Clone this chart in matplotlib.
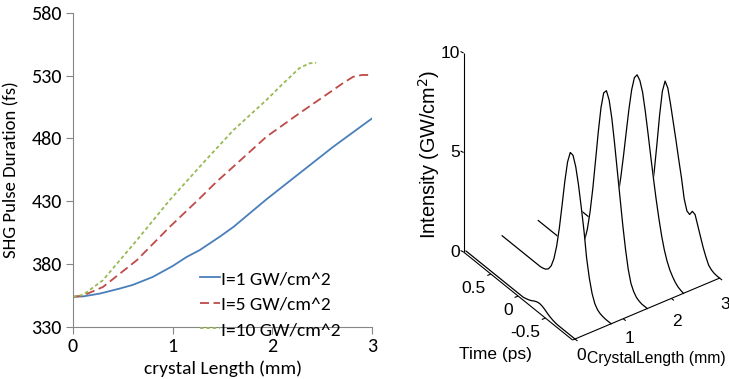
import numpy as np
import matplotlib
matplotlib.use('Agg')
import matplotlib.pyplot as plt
from matplotlib import font_manager

# ---- left panel: SHG pulse duration vs crystal length ----
len_i1 = [0, 0.1, 0.27, 0.47, 0.6, 0.8, 1.0, 1.14, 1.27, 1.47, 1.61, 1.94, 2.27, 2.61, 3.0]
dur_i1 = [354, 354.3, 356.6, 360.6, 363.5, 369.8, 378.5, 385.7, 391.1, 401.7, 409.6, 431.5, 452.1, 473.3, 495.9]
len_i5 = [0, 0.1, 0.3, 0.64, 0.97, 1.27, 1.44, 1.61, 1.94, 2.27, 2.61, 2.7, 2.81, 2.9, 3.0]
dur_i5 = [354, 355, 361.8, 383.1, 409.6, 432.2, 445.5, 457.6, 481.3, 499.9, 518.5, 523.5, 529, 530.5, 530.4]
len_i10 = [0, 0.1, 0.3, 0.64, 0.97, 1.3, 1.61, 1.94, 2.11, 2.27, 2.37, 2.44]
dur_i10 = [354, 355.5, 367.2, 399, 430.9, 460, 486.6, 510.5, 523.8, 535.8, 539.7, 540.2]
series_labels = ['I=1 GW/cm^2', 'I=5 GW/cm^2', 'I=10 GW/cm^2']

# ---- right panel: SHG intensity waterfall ----
time_ps = [1.0, 0.95, 0.9, 0.85, 0.8, 0.75, 0.7, 0.65, 0.6, 0.55, 0.5,
           0.45, 0.4, 0.35, 0.3, 0.25, 0.2, 0.15, 0.1, 0.05, 0.0,
           -0.05, -0.1, -0.15, -0.2, -0.25, -0.3, -0.35, -0.4, -0.45, -0.5,
           -0.55, -0.6, -0.65, -0.7, -0.75, -0.8, -0.85, -0.9, -0.95, -1.0]
slice_len = [0, 0.75, 1.5, 2.25, 3.0]
int_l0 = [0] * 22 + [.04, .09, .16, .25, .32, .35, .32, .25, .16, .09, .04, .01] + [0] * 7
int_l075 = [0] * 15 + [.03, .09, .22, .48, .95, 1.69, 2.72, 3.98, 5.28, 6.36, 6.95, 6.92,
                       6.46, 5.67, 4.67, 3.61, 2.3, 1.4, .75, .35, .15, .06, .02] + [0] * 3
int_l15 = [0] * 12 + [.02, .05, .1, .23, .47, .89, 1.56, 2.54, 3.82, 5.33, 6.87, 8.21, 9.07,
                      9.29, 8.93, 8.11, 6.96, 5.7, 4.45, 3.2, 2.1, 1.2, .6, .3, .12, .04] + [0] * 3
int_l225 = [0] * 9 + [.03, .07, .15, .29, .54, .92, 1.48, 2.27, 3.28, 4.48, 5.78, 7.05, 8.13,
                      8.85, 9.1, 8.93, 8.45, 7.6, 6.6, 5.55, 4.55, 3.6, 2.75, 2.0, 1.4, .95,
                      .62, .4, .22, .1, .04, 0]
int_l3 = [0] * 11 + [.05, .14, .35, .78, 1.54, 2.7, 4.19, 5.78, 7.07, 7.69, 7.45, 6.75, 5.95,
                     5.15, 4.3, 3.5, 2.55, 2.05, 1.98, 2.25, 2.2, 1.75, 1.3, .86, .5, .2, .08,
                     .02, 0, 0]
intensity = [int_l0, int_l075, int_l15, int_l225, int_l3]
time_ticks = [0.5, 0, -0.5]
len_ticks = [0, 1, 2, 3]
int_ticks = [0, 5, 10]

names = {f.name for f in font_manager.fontManager.ttflist}
left_font = 'Carlito' if 'Carlito' in names else 'Lato'
right_font = 'Liberation Sans'

fig = plt.figure(figsize=(7.29, 3.79), dpi=100)

# ---------------- left chart ----------------
ax = fig.add_axes([73 / 729, 1 - 327 / 379, 299 / 729, 314.3 / 379])
ax.plot(len_i1, dur_i1, color='#4A7EBB', lw=1.3, label=series_labels[0])
ax.plot(len_i5, dur_i5, color='#BE4B48', lw=1.3, dashes=(5, 2.5), label=series_labels[1])
ax.plot(len_i10, dur_i10, color='#98B954', lw=1.3, dashes=(2, 1.5), label=series_labels[2])
ax.set_xlim(0, 3)
ax.set_ylim(330, 580)
ax.set_xticks([0, 1, 2, 3])
ax.set_yticks([330, 380, 430, 480, 530, 580])
for s in ['top', 'right']:
    ax.spines[s].set_visible(False)
for s in ['left', 'bottom']:
    ax.spines[s].set_color('#868686')
    ax.spines[s].set_linewidth(0.8)
ax.tick_params(direction='out', length=5, width=0.8, color='#868686', labelsize=14.5, pad=3)
for lab in ax.get_xticklabels() + ax.get_yticklabels():
    lab.set_family(left_font)
ax.set_xlabel('crystal Length (mm)', family=left_font, fontsize=14)
ax.xaxis.set_label_coords(0.5, -0.105)
ax.set_ylabel('SHG Pulse Duration (fs)', family=left_font, fontsize=13.5)
ax.yaxis.set_label_coords(-0.18, 0.5)
ax.legend(loc='lower left', bbox_to_anchor=(0.425, -0.035), frameon=False,
          handlelength=1.0, handletextpad=0.1, labelspacing=0.45, borderpad=0,
          borderaxespad=0, prop={'family': left_font, 'size': 14})

# ---------------- right chart (oblique projection) ----------------
axr = fig.add_axes([380 / 729, 0, 349 / 729, 1])
axr.set_xlim(380, 729)
axr.set_ylim(379, 0)
axr.axis('off')

corner = np.array([575.0, 339.0])   # L=0, t=-1, z=0
a_len = np.array([48.2, -20.3])      # per mm
b_time = np.array([-54.5, -44.0])    # per ps
c_int = np.array([0.0, -19.9])       # per unit intensity
l_box = -0.05


def proj(L, t, z):
    L = np.asarray(L, float)
    t = np.asarray(t, float)
    z = np.asarray(z, float)
    x = corner[0] + a_len[0] * L + b_time[0] * (t + 1) + c_int[0] * z
    y = corner[1] + a_len[1] * L + b_time[1] * (t + 1) + c_int[1] * z
    return x, y


# curves from back to front, white filled to hide what is behind
order = list(range(len(slice_len)))[::-1]
for k, i in enumerate(order):
    L = slice_len[i]
    xs, ys = proj(np.full(len(time_ps), L), time_ps, intensity[i])
    axr.fill(xs, ys, color='white', zorder=2 + k)
    axr.plot(xs, ys, color='black', lw=0.9, zorder=2 + k)

tk = dict(color='black', lw=0.8, zorder=20, solid_capstyle='butt')
# time axis
x0, y0 = proj([l_box, l_box], [1, -1], [0, 0])
axr.plot(x0, y0, **tk)
# length axis
x1, y1 = proj([l_box, 3], [-1, -1], [0, 0])
axr.plot(x1, y1, **tk)
# intensity axis
x2, y2 = proj([l_box, l_box], [1, 1], [0, 10])
axr.plot(x2, y2, **tk)

txt = dict(family=right_font, fontsize=12.5, color='black', clip_on=False)
for zt in int_ticks:
    px, py = proj(l_box, 1, zt)
    axr.plot([px, px - 3], [py, py - 1.5], **tk)
    axr.text(px - 4, py, str(zt), ha='right', va='center', **txt)
for tt in time_ticks:
    px, py = proj(l_box, tt, 0)
    axr.plot([px, px - 3.5], [py, py + 1.5], **tk)
    axr.text(px - 5, py + 14, '%g' % tt, ha='right', va='center', **txt)
for lt in len_ticks:
    px, py = proj(lt, -1, 0)
    axr.plot([px, px + 2.5], [py, py + 2], **tk)
    axr.text(px + 6, py + 17 + 3 * lt, str(lt), ha='center', va='center', **txt)

axr.text(495, 355, 'Time (ps)', ha='center', va='center', **txt)
axr.text(587, 358, 'CrystalLength (mm)', ha='left', va='center',
         **dict(txt, fontsize=11.3))
axr.text(429, 154, 'Intensity (GW/cm$^2$)', ha='center', va='center', rotation=90,
         **dict(txt, fontsize=14.3))

fig.savefig('out.png', dpi=100)
